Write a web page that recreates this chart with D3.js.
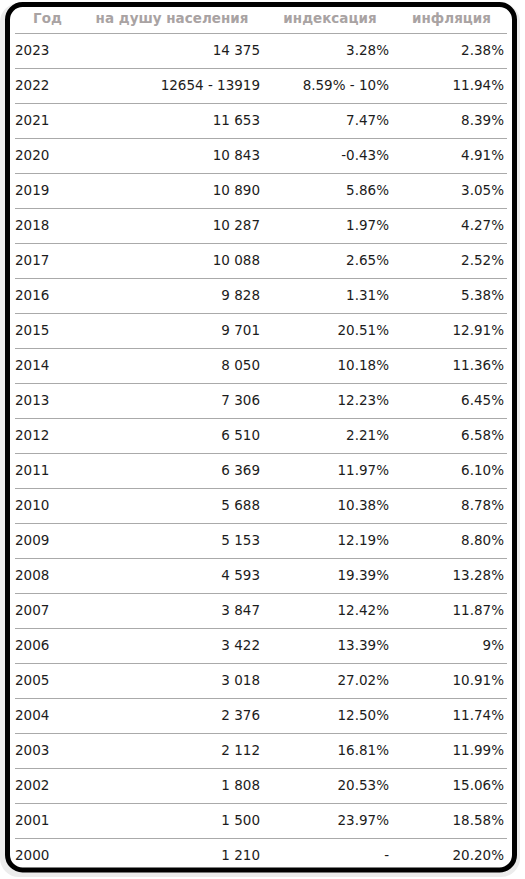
<!DOCTYPE html>
<html>
<head>
<meta charset="utf-8">
<script src="https://cdn.jsdelivr.net/npm/d3@7"></script>
<style>
  body { margin: 0; background: #fff; }
  svg { display: block; }
</style>
</head>
<body>
<svg id="chart"></svg>
<script>
// Table data
const headers = ["Год", "на душу населения", "индексация", "инфляция"];
const years = [2023, 2022, 2021, 2020, 2019, 2018, 2017, 2016, 2015, 2014, 2013, 2012,
  2011, 2010, 2009, 2008, 2007, 2006, 2005, 2004, 2003, 2002, 2001, 2000];
const perCapita = ["14 375", "12654 - 13919", "11 653", "10 843", "10 890", "10 287",
  "10 088", "9 828", "9 701", "8 050", "7 306", "6 510", "6 369", "5 688", "5 153",
  "4 593", "3 847", "3 422", "3 018", "2 376", "2 112", "1 808", "1 500", "1 210"];
const indexation = ["3.28%", "8.59% - 10%", "7.47%", "-0.43%", "5.86%", "1.97%", "2.65%",
  "1.31%", "20.51%", "10.18%", "12.23%", "2.21%", "11.97%", "10.38%", "12.19%", "19.39%",
  "12.42%", "13.39%", "27.02%", "12.50%", "16.81%", "20.53%", "23.97%", "-"];
const inflation = ["2.38%", "11.94%", "8.39%", "4.91%", "3.05%", "4.27%", "2.52%", "5.38%",
  "12.91%", "11.36%", "6.45%", "6.58%", "6.10%", "8.78%", "8.80%", "13.28%", "11.87%",
  "9%", "10.91%", "11.74%", "11.99%", "15.06%", "18.58%", "20.20%"];

const W = 525, H = 879;
const svg = d3.select("#chart").attr("width", W).attr("height", H);

// Frame with a faint shadow
svg.append("rect")
  .attr("x", 3).attr("y", 6).attr("width", 514).attr("height", 868)
  .attr("rx", 16).attr("fill", "none")
  .attr("stroke", "#ececec").attr("stroke-width", 6);
svg.append("rect")
  .attr("x", 7.5).attr("y", 4.5).attr("width", 507).attr("height", 865.5)
  .attr("rx", 15).attr("fill", "#fff")
  .attr("stroke", "#000").attr("stroke-width", 5);

// Row layout
const rowTop = 33, rowH = 35;
const y = d3.scaleBand()
  .domain(years)
  .range([rowTop, rowTop + rowH * years.length]);

const lineX0 = 15, lineX1 = 507;

// Column positions: header centers and cell anchors
const headerX = [47.5, 172, 330, 451.5];
const cols = [
  { values: years, x: 15, anchor: "start" },
  { values: perCapita, x: 260, anchor: "end" },
  { values: indexation, x: 389, anchor: "end" },
  { values: inflation, x: 504, anchor: "end" }
];

// Header
svg.append("g")
  .selectAll("text")
  .data(headers)
  .enter()
  .append("text")
  .attr("x", (d, i) => headerX[i])
  .attr("y", 23)
  .attr("text-anchor", "middle")
  .style("font-family", "'DejaVu Sans', Verdana, sans-serif")
  .style("font-size", "13.5px")
  .style("font-weight", "bold")
  .style("fill", "#a9a3a3")
  .text(d => d);

// Separator lines (above every row)
svg.append("g")
  .selectAll("line")
  .data(years)
  .enter()
  .append("line")
  .attr("x1", lineX0).attr("x2", lineX1)
  .attr("y1", d => y(d) + 0.5).attr("y2", d => y(d) + 0.5)
  .attr("stroke", "#aaa")
  .attr("stroke-width", 1);

// Cells
cols.forEach(col => {
  svg.append("g")
    .selectAll("text")
    .data(col.values)
    .enter()
    .append("text")
    .attr("x", col.x)
    .attr("y", (d, i) => y(years[i]) + y.bandwidth() / 2)
    .attr("dy", "0.36em")
    .attr("text-anchor", col.anchor)
    .style("font-family", "'DejaVu Sans', Verdana, sans-serif")
    .style("font-size", "13.5px")
    .style("fill", "#1c1c1c")
    .text(d => d);
});
</script>
</body>
</html>
